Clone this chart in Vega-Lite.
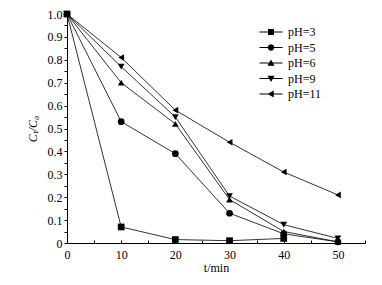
{
  "$schema": "https://vega.github.io/schema/vega-lite/v6.json",
  "width": 298,
  "height": 229,
  "autosize": {"type": "none"},
  "padding": {"left": 67, "top": 14, "right": 17, "bottom": 42},
  "background": "white",
  "config": {
    "view": {"stroke": null},
    "font": "Liberation Serif",
    "axis": {
      "domainColor": "black", "domainWidth": 1, "tickColor": "black", "tickWidth": 1,
      "labelColor": "black", "labelFont": "Liberation Serif", "labelFontSize": 12,
      "titleFont": "Liberation Serif", "titleColor": "black", "titleFontWeight": "normal", "titleFontSize": 12,
      "grid": false
    },
    "legend": {"labelFont": "Liberation Serif", "labelFontSize": 12, "labelColor": "black"}
  },
  "data": {
    "values": [
      {"pH": "pH=3", "t": 0, "c": 1.0},
      {"pH": "pH=3", "t": 10, "c": 0.07},
      {"pH": "pH=3", "t": 20, "c": 0.015},
      {"pH": "pH=3", "t": 30, "c": 0.01},
      {"pH": "pH=3", "t": 40, "c": 0.02},
      {"pH": "pH=5", "t": 0, "c": 1.0},
      {"pH": "pH=5", "t": 10, "c": 0.53},
      {"pH": "pH=5", "t": 20, "c": 0.39},
      {"pH": "pH=5", "t": 30, "c": 0.13},
      {"pH": "pH=5", "t": 40, "c": 0.04},
      {"pH": "pH=5", "t": 50, "c": 0.005},
      {"pH": "pH=6", "t": 0, "c": 1.0},
      {"pH": "pH=6", "t": 10, "c": 0.70},
      {"pH": "pH=6", "t": 20, "c": 0.52},
      {"pH": "pH=6", "t": 30, "c": 0.19},
      {"pH": "pH=6", "t": 40, "c": 0.05},
      {"pH": "pH=6", "t": 50, "c": 0.005},
      {"pH": "pH=9", "t": 0, "c": 1.0},
      {"pH": "pH=9", "t": 10, "c": 0.77},
      {"pH": "pH=9", "t": 20, "c": 0.55},
      {"pH": "pH=9", "t": 30, "c": 0.205},
      {"pH": "pH=9", "t": 40, "c": 0.08},
      {"pH": "pH=9", "t": 50, "c": 0.02},
      {"pH": "pH=11", "t": 0, "c": 1.0},
      {"pH": "pH=11", "t": 10, "c": 0.81},
      {"pH": "pH=11", "t": 20, "c": 0.58},
      {"pH": "pH=11", "t": 30, "c": 0.44},
      {"pH": "pH=11", "t": 40, "c": 0.31},
      {"pH": "pH=11", "t": 50, "c": 0.21}
    ]
  },
  "encoding": {
    "x": {
      "field": "t", "type": "quantitative",
      "scale": {"domain": [0, 55], "nice": false, "zero": false},
      "axis": {
        "title": "t/min", "values": [0,5,10,15,20,25,30,35,40,45,50,55],
        "labelExpr": "(datum.value % 10 == 0 && datum.value <= 50) ? datum.label : ''",
        "tickSize": -3, "labelPadding": 9, "titlePadding": 2, "labelFlush": false
      }
    },
    "y": {
      "field": "c", "type": "quantitative",
      "scale": {"domain": [0, 1.0], "nice": false},
      "axis": {
        "title": "Cₜ/C₀", "titleFontStyle": "italic",
        "values": [0,0.05,0.1,0.15,0.2,0.25,0.3,0.35,0.4,0.45,0.5,0.55,0.6,0.65,0.7,0.75,0.8,0.85,0.9,0.95,1.0],
        "labelExpr": "round(datum.value*100) % 10 == 0 ? (datum.value == 0 ? '0' : format(datum.value, '.1f')) : ''",
        "tickSize": 3, "labelPadding": 2, "titlePadding": 8, "labelFlush": false
      }
    }
  },
  "resolve": {"scale": {"shape": "independent"}},
  "layer": [
    {
      "mark": {"type": "line", "color": "black", "strokeWidth": 0.8},
      "encoding": {"detail": {"field": "pH"}}
    },
    {
      "mark": {"type": "point", "filled": true, "color": "black", "opacity": 1, "size": 45},
      "encoding": {
        "shape": {
          "field": "pH", "type": "nominal",
          "scale": {"domain": ["pH=3","pH=5","pH=6","pH=9","pH=11"], "range": ["square","circle","triangle-up","triangle-down","triangle-left"]},
          "legend": null
        }
      }
    },
    {
      "mark": {"type": "point", "filled": true, "color": "black", "opacity": 0},
      "encoding": {
        "shape": {
          "field": "pH", "type": "nominal",
          "scale": {
            "domain": ["pH=3","pH=5","pH=6","pH=9","pH=11"],
            "range": [
              "M-2.3,-0.1H2.3V0.1H-2.3ZM-0.6,-0.6H0.6V0.6H-0.6Z",
              "M-2.3,-0.1H2.3V0.1H-2.3ZM-0.65,0A0.65,0.65 0 1,1 0.65,0A0.65,0.65 0 1,1 -0.65,0Z",
              "M-2.3,-0.1H2.3V0.1H-2.3ZM0,-0.7L0.7,0.55L-0.7,0.55Z",
              "M-2.3,-0.1H2.3V0.1H-2.3ZM0,0.7L-0.7,-0.55L0.7,-0.55Z",
              "M-2.3,-0.1H2.3V0.1H-2.3ZM-0.7,0L0.55,-0.7L0.55,0.7Z"
            ]
          },
          "legend": {
            "title": null, "orient": "none", "legendX": 198, "legendY": 12,
            "padding": 0, "symbolSize": 100, "labelOffset": 11, "rowPadding": 3.5,
            "symbolOpacity": 1, "symbolFillColor": "black", "symbolStrokeWidth": 0
          }
        }
      }
    }
  ]
}
